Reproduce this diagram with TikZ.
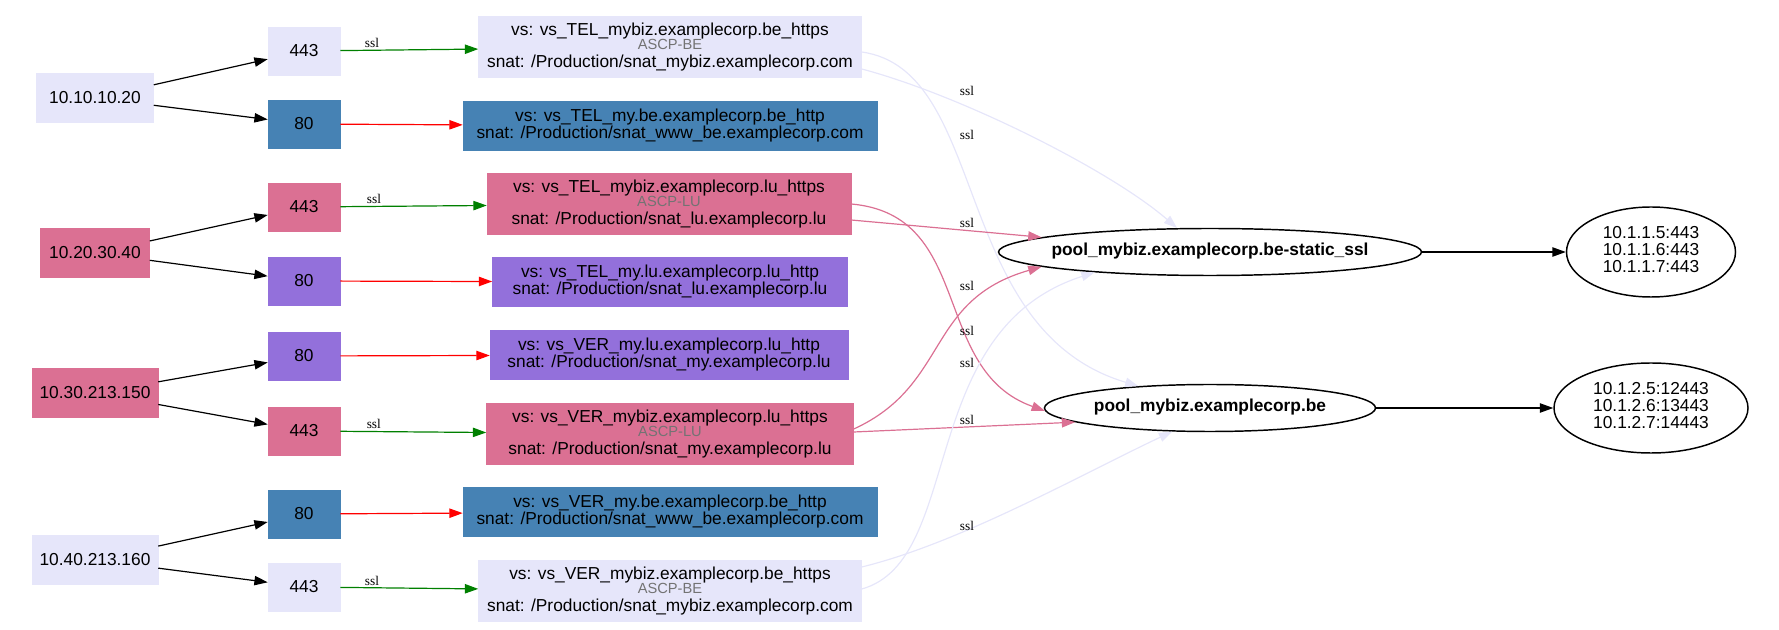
\documentclass[tikz,border=0pt]{standalone}
\usepackage{fontspec}
\setmainfont{Liberation Sans}
\newfontfamily\labelfont{Liberation Serif}
\usetikzlibrary{arrows.meta,shapes.geometric,calc}
\definecolor{lav}{HTML}{E6E6FA}
\definecolor{steel}{HTML}{4682B4}
\definecolor{rose}{HTML}{DB7093}
\definecolor{mpurple}{HTML}{9370DB}
\definecolor{dgreen}{HTML}{008000}
\newcommand\fixwidth[1]{\makebox[0pt]{\begin{tabular}{@{}c@{}}#1\end{tabular}}}
\newcommand\sub[1]{{\fontsize{11}{11}\selectfont\color{black!55}#1}}
\begin{document}
\begin{tikzpicture}[x=0.75pt, y=-0.75pt,
    gvbox/.style = {shape = rectangle,
                    draw = #1,
                    fill = #1,
                    inner sep = 3pt,
                    align = center,
                    font = \fontsize{13}{12.75}\selectfont},
    ipnode/.style = {gvbox = #1, minimum height = 36.75pt},
    portnode/.style = {gvbox = #1, minimum width = 54pt, minimum height = 36pt},
    vsnode/.style = {gvbox = #1},
    poolnode/.style = {shape = ellipse,
                       draw = black,
                       line width = 1.1pt,
                       inner sep = 0pt,
                       minimum height = 35.25pt,
                       font = \bfseries\fontsize{13}{13}\selectfont},
    hostnode/.style = {shape = ellipse,
                       draw = black,
                       line width = 1.1pt,
                       inner sep = 0pt,
                       minimum height = 67.5pt,
                       font = \fontsize{13}{13}\selectfont},
    ssllabel/.style = {font = \labelfont\fontsize{10}{10}\selectfont, inner sep = 1.5pt},
    tip/.style = {-{Triangle[length = 10pt, width = 7pt]}},
    blackedge/.style = {tip, color = black, line width = 0.9pt},
    greenedge/.style = {tip, color = dgreen, line width = 0.9pt},
    rededge/.style = {tip, color = red, line width = 0.9pt},
    roseedge/.style = {tip, color = rose, line width = 0.9pt},
    laveedge/.style = {tip, color = lav, line width = 0.9pt}]
    \useasboundingbox (0,0) rectangle (1779,630);

    \node[ipnode = lav, minimum width = 87.75pt] (ip1) at (95,98) {10.10.10.20};
    \node[ipnode = rose, minimum width = 81.75pt] (ip2) at (95,253) {10.20.30.40};
    \node[ipnode = rose, minimum width = 94.5pt] (ip3) at (95,393) {10.30.213.150};
    \node[ipnode = lav, minimum width = 94.5pt] (ip4) at (95,560) {10.40.213.160};

    \node[portnode = lav] (p443a) at (304,51) {443};
    \node[portnode = steel] (p80a) at (304,124) {80};
    \node[portnode = rose] (p443b) at (304,207) {443};
    \node[portnode = mpurple] (p80b) at (304,281) {80};
    \node[portnode = mpurple] (p80c) at (304,356) {80};
    \node[portnode = rose] (p443c) at (304,431) {443};
    \node[portnode = steel] (p80d) at (304,514) {80};
    \node[portnode = lav] (p443d) at (304,587) {443};

    \node[vsnode = lav, minimum width = 287.25pt, minimum height = 45.75pt] (vs1) at (670,47)
        {vs: vs\_TEL\_mybiz.examplecorp.be\_https\\[-2pt]\sub{ASCP-BE}\\[0.5pt]snat: /Production/snat\_mybiz.examplecorp.com};
    \node[vsnode = steel, minimum width = 310.5pt, minimum height = 36.75pt] (vs2) at (670,126)
        {vs: vs\_TEL\_my.be.examplecorp.be\_http\\snat: /Production/snat\_www\_be.examplecorp.com};
    \node[vsnode = rose, minimum width = 273pt, minimum height = 45.75pt] (vs3) at (669,204)
        {vs: vs\_TEL\_mybiz.examplecorp.lu\_https\\[-2pt]\sub{ASCP-LU}\\[0.5pt]snat: /Production/snat\_lu.examplecorp.lu};
    \node[vsnode = mpurple, minimum width = 266.25pt, minimum height = 36.75pt] (vs4) at (670,282)
        {vs: vs\_TEL\_my.lu.examplecorp.lu\_http\\snat: /Production/snat\_lu.examplecorp.lu};
    \node[vsnode = mpurple, minimum width = 268.5pt, minimum height = 36.75pt] (vs5) at (669,355)
        {vs: vs\_VER\_my.lu.examplecorp.lu\_http\\snat: /Production/snat\_my.examplecorp.lu};
    \node[vsnode = rose, minimum width = 275.25pt, minimum height = 45.75pt] (vs6) at (670,434)
        {vs: vs\_VER\_mybiz.examplecorp.lu\_https\\[-2pt]\sub{ASCP-LU}\\[0.5pt]snat: /Production/snat\_my.examplecorp.lu};
    \node[vsnode = steel, minimum width = 310.5pt, minimum height = 36.75pt] (vs7) at (670,512)
        {vs: vs\_VER\_my.be.examplecorp.be\_http\\snat: /Production/snat\_www\_be.examplecorp.com};
    \node[vsnode = lav, minimum width = 287.25pt, minimum height = 45.75pt] (vs8) at (670,591)
        {vs: vs\_VER\_mybiz.examplecorp.be\_https\\[-2pt]\sub{ASCP-BE}\\[0.5pt]snat: /Production/snat\_mybiz.examplecorp.com};

    \node[poolnode, minimum width = 317.25pt] (pool1) at (1210,252)
        {\fixwidth{pool\_mybiz.examplecorp.be-static\_ssl}};
    \node[poolnode, minimum width = 248.25pt] (pool2) at (1210,408)
        {\fixwidth{pool\_mybiz.examplecorp.be}};

    \node[hostnode, minimum width = 126.75pt] (hosts1) at (1651,252)
        {\fixwidth{10.1.1.5:443\\10.1.1.6:443\\10.1.1.7:443}};
    \node[hostnode, minimum width = 145.5pt] (hosts2) at (1651,408)
        {\fixwidth{10.1.2.5:12443\\10.1.2.6:13443\\10.1.2.7:14443}};

    \path[blackedge] (ip1) edge (p443a) edge (p80a);
    \path[blackedge] (ip2) edge (p443b) edge (p80b);
    \path[blackedge] (ip3) edge (p80c) edge (p443c);
    \path[blackedge] (ip4) edge (p80d) edge (p443d);

    \path[greenedge] (p443a) edge node[ssllabel, pos = 0.23, above, black] (sslp1) {ssl} (vs1);
    \path[greenedge] (p443b) edge node[ssllabel, pos = 0.23, above, black] (sslp2) {ssl} (vs3);
    \path[greenedge] (p443c) edge node[ssllabel, pos = 0.23, above, black] (sslp3) {ssl} (vs6);
    \path[greenedge] (p443d) edge node[ssllabel, pos = 0.23, above, black] (sslp4) {ssl} (vs8);
    \path[rededge] (p80a) edge (vs2);
    \path[rededge] (p80b) edge (vs4);
    \path[rededge] (p80c) edge (vs5);
    \path[rededge] (p80d) edge (vs7);

    \draw[laveedge] ($(vs1.east)+(0,22)$) .. controls (960,95) and (1110,170) .. (pool1.144);
    \draw[laveedge] ($(vs1.east)+(0,5)$) .. controls (990,70) and (950,330) .. (pool2.163);
    \draw[roseedge] ($(vs3.east)+(0,16)$) -- (pool1.175);
    \draw[roseedge] (vs3.east) .. controls (975,215) and (930,370) .. (pool2.181);
    \draw[roseedge] ($(vs6.east)+(0,-5)$) .. controls (950,385) and (925,300) .. (pool1.185);
    \draw[roseedge] ($(vs6.east)+(0,-2)$) -- (pool2.186);
    \draw[laveedge] ($(vs8.east)+(0,-24)$) .. controls (960,543) and (1080,475) .. (pool2.212);
    \draw[laveedge] ($(vs8.east)+(0,-2)$) .. controls (965,560) and (915,330) .. (pool1.190);

    \node[ssllabel] (sslr1) at (967,91) {ssl};
    \node[ssllabel] (sslr2) at (967,135) {ssl};
    \node[ssllabel] (sslr3) at (967,223) {ssl};
    \node[ssllabel] (sslr4) at (967,286) {ssl};
    \node[ssllabel] (sslr5) at (967,331) {ssl};
    \node[ssllabel] (sslr6) at (967,363) {ssl};
    \node[ssllabel] (sslr7) at (967,420) {ssl};
    \node[ssllabel] (sslr8) at (967,526) {ssl};

    \path[blackedge] (pool1) edge (hosts1);
    \path[blackedge] (pool2) edge (hosts2);
\end{tikzpicture}
\end{document}
